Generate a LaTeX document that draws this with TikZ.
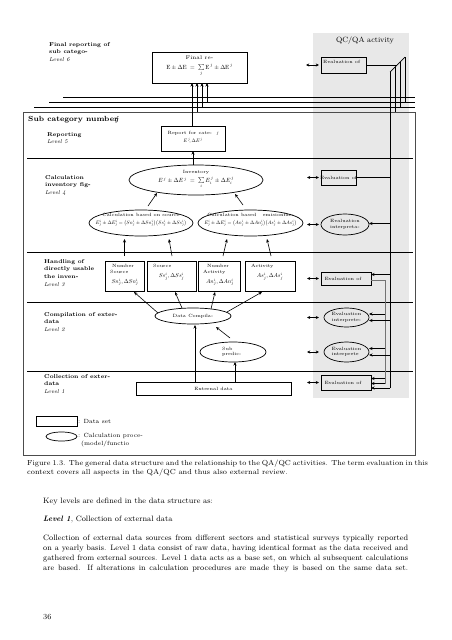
\RequirePackage{fix-cm}
\documentclass[tikz,border=0pt]{standalone}
\usetikzlibrary{shapes.geometric,arrows.meta,calc}
\definecolor{qcgray}{gray}{0.91}
\tikzset{
 bx/.style={draw, line width=0.7pt, rectangle, inner sep=0pt, outer sep=0pt},
 el/.style={draw, line width=0.7pt, ellipse, inner sep=0pt, outer sep=0pt},
 tx/.style={inner sep=0pt, font=\fontsize{5.3}{6.3}\selectfont, align=center},
 txs/.style={inner sep=0pt, font=\fontsize{4.6}{5.6}\selectfont, align=center},
 txl/.style={inner sep=0pt, font=\fontsize{4.6}{5.6}\selectfont, align=left, anchor=west},
 fm/.style={inner sep=0pt, font=\fontsize{10}{12}\selectfont, scale=0.5},
 lvl/.style={inner sep=0pt, anchor=north west, align=left, font=\fontsize{5.6}{7.8}\selectfont\bfseries},
 ln/.style={line width=0.7pt},
 arr/.style={line width=0.6pt, -{Stealth[length=3.5pt,width=3pt]}},
 darr/.style={line width=0.6pt, {Stealth[length=3.2pt,width=3pt]}-{Stealth[length=3.2pt,width=3pt]}},
 bus2/.style={line width=0.8pt, draw=black!55},
 body/.style={inner sep=0pt, anchor=base west, font=\fontsize{7.8}{10}\selectfont},
 capt/.style={inner sep=0pt, anchor=base west, font=\fontsize{7.3}{9}\selectfont},
}
\begin{document}
\begin{tikzpicture}[x=1pt,y=-1pt]
\useasboundingbox (0,0) rectangle (452,640);
\fill[white] (0,0) rectangle (452,640);
% QC/QA gray area
\fill[qcgray] (313,33) rectangle (409,398);
\node[inner sep=0pt, font=\fontsize{7.6}{9}\selectfont] (qc) at (365,41) {QC/QA activity};

% level 6
\node[lvl] (l6) at (49,42) {Final reporting of\\sub catego-\\\mdseries\itshape Level 6};
\node[bx, minimum width=95pt, minimum height=31pt] (fin) at (199.5,67.5) {};
\node[tx] (fint1) at (199.5,58) {Final re-};
\node[fm, scale=1.2] (fint2) at (199.5,70) {$\mathrm{E}\pm\Delta\mathrm{E}\;=\;\sum\limits_{j}\mathrm{E}^{\,j}\pm\Delta\mathrm{E}^{\,j}$};

% horizontal bundle
\coordinate (hA1) at (63,97);  \coordinate (hA2) at (415,97);
\coordinate (hB1) at (49,102); \coordinate (hB2) at (415,102);
\coordinate (hC1) at (34,107); \coordinate (hC2) at (415,107);
\draw[ln] (hA1) -- (hA2);
\draw[ln] (hB1) -- (hB2);
\draw[ln] (hC1) -- (hC2);

% sub category box
\draw[line width=1pt, draw=black!70] (23,112) rectangle (415,455);
\node[inner sep=0pt, anchor=west, font=\fontsize{7.4}{9}\selectfont\bfseries] (sub) at (28,120) {Sub category number\kern-2.5pt\textit{j}};

% level separators
\draw[ln] (27,158) -- (413,158);
\draw[ln] (27,252) -- (413,252);
\draw[ln] (27,302) -- (413,302);
\draw[ln] (27,371) -- (413,371);

% level labels
\node[lvl] (l5) at (47,132) {Reporting\\\mdseries\itshape Level 5};
\node[lvl] (l4) at (45,175) {Calculation\\inventory fig-\\\mdseries\itshape Level 4};
\node[lvl] (l3) at (44,259) {Handling of\\directly usable\\the inven-\\\mdseries\itshape Level 3};
\node[lvl] (l2) at (44,312) {Compilation of exter-\\data\\\mdseries\itshape Level 2};
\node[lvl] (l1) at (44,374) {Collection of exter-\\data\\\mdseries\itshape Level 1};

% level 5
\node[bx, minimum width=64pt, minimum height=25pt] (rep) at (193,138.5) {};
\node[txs] (rept1) at (193,133) {Report for cate-\quad\textit{j}};
\node[fm] (rept2) at (193,141) {$E^{\,j}\!,\Delta E^{\,j}$};

% level 4
\node[el, minimum width=134pt, minimum height=30pt] (inv) at (196,180) {};
\node[txs] (invt1) at (196,172) {Inventory};
\node[fm, scale=1.2] (invt2) at (196,182.5) {$E^{\,j}\pm\Delta E^{\,j}\;=\;\sum\limits_{i}E_i^{\,j}\pm\Delta E_i^{\,j}$};

\node[el, minimum width=104pt, minimum height=26pt] (src) at (141,223) {};
\node[txs] (srct1) at (141,215) {Calculation based on source};
\node[fm] (srct2) at (141,223.5) {$E_j^i\pm\Delta E_j^i=\bigl(Sn_j^i\pm\Delta Sn_j^i\bigr)\bigl(Ss_j^i\pm\Delta Ss_j^i\bigr)$};

\node[el, minimum width=105pt, minimum height=26pt] (act) at (250.5,223) {};
\node[txs] (actt1) at (250.5,215) {Calculation based \ \ emisionfac-};
\node[fm] (actt2) at (250.5,223.5) {$E_j^i\pm\Delta E_j^i=\bigl(An_j^i\pm\Delta An_j^i\bigr)\bigl(As_j^i\pm\Delta As_j^i\bigr)$};

% level 3
\node[bx, minimum width=39pt, minimum height=30pt] (b1) at (124.5,276) {};
\node[bx, minimum width=49pt, minimum height=30pt] (b2) at (171.5,276) {};
\node[bx, minimum width=42pt, minimum height=30pt] (b3) at (219,276) {};
\node[bx, minimum width=50pt, minimum height=30pt] (b4) at (270,276) {};
\node[txs, align=left, anchor=north west] (b1t) at (110,264.5) {\hspace*{2pt}Number\\Source};
\node[fm, scale=1.15] (b1f) at (125,282) {$Sn_j^i,\Delta Sn_j^i$};
\node[txs, anchor=north west] (b2t) at (153,264.5) {Source};
\node[fm, scale=1.15] (b2f) at (171.5,276.5) {$Ss_j^i,\Delta Ss_j^i$};
\node[txs, align=left, anchor=north west] (b3t) at (203,264.5) {\hspace*{4pt}Number\\Activity};
\node[fm, scale=1.15] (b3f) at (220,282) {$An_j^i,\Delta An_j^i$};
\node[txs, anchor=north west] (b4t) at (251,264.5) {Activity};
\node[fm, scale=1.15] (b4f) at (270,276.5) {$As_j^i,\Delta As_j^i$};

% level 2
\node[el, minimum width=76pt, minimum height=16pt] (dc) at (193,316) {};
\node[txs] (dct) at (193,316) {Data Compila-};
\node[el, minimum width=66pt, minimum height=20pt] (sp) at (233,352) {};
\node[txs, align=left, anchor=west] (spt) at (222,352) {Sub\\predic-};

% level 1
\node[bx, minimum width=155pt, minimum height=13pt] (ext) at (213.5,388.5) {};
\node[txs] (extt) at (213.5,388.5) {External data};

% main arrows
\draw[arr] ([xshift=-1pt]rep.north) -- ([xshift=-7.5pt]fin.south);
\coordinate (j1) at (197,112);
\coordinate (j2) at (202,107);
\coordinate (j3) at (207,102);
\draw[arr] (j1) -- ([xshift=-2.5pt]fin.south);
\draw[arr] (j2) -- ([xshift=2.5pt]fin.south);
\draw[arr] (j3) -- ([xshift=7.5pt]fin.south);
\draw[arr] (inv.north -| rep.south) -- (rep.south);
\draw[arr] ($(src.north)+(7,-4)$) -- ($(inv.south)+(-39,-2)$);
\draw[arr] ($(act.north)+(-7.5,-5)$) -- ($(inv.south)+(39,-1)$);
\draw[arr] ([yshift=5pt]b1.north) -- ([xshift=-16.5pt,yshift=-3pt]src.south);
\draw[arr] ([xshift=0.5pt,yshift=5pt]b2.north) -- ([xshift=28pt,yshift=-3pt]src.south);
\draw[arr] ([xshift=4pt,yshift=5pt]b3.north) -- ([xshift=-23.5pt,yshift=-3pt]act.south);
\draw[arr] ([xshift=1pt,yshift=5pt]b4.north) -- ([xshift=16.5pt,yshift=-3pt]act.south);
\draw[arr] ([xshift=3pt,yshift=3pt]dc.west) -- ([xshift=9.5pt,yshift=-1pt]b1.south);
\draw[arr] ([xshift=-11pt]dc.north) -- ([xshift=3.5pt,yshift=-1pt]b2.south);
\draw[arr] ([xshift=18pt,yshift=-1pt]dc.north) -- ([xshift=-4pt,yshift=-1pt]b3.south);
\draw[arr] ([xshift=-4pt,yshift=4pt]dc.east) -- ([xshift=-8pt,yshift=-1pt]b4.south);
\draw[arr] ([xshift=-3pt,yshift=4pt]sp.north) -- ([xshift=23pt,yshift=-3pt]dc.south);
\draw[arr] ([xshift=-18.5pt]ext.north) -- ([xshift=2pt,yshift=-1pt]dc.south);
\draw[arr] ([xshift=21.5pt]ext.north) -- ([xshift=2pt]sp.south);

% QC/QA evaluation elements
\node[bx, minimum width=45pt, minimum height=16pt] (ev6) at (343.5,65) {};
\node[txl] (ev6t) at (323,62) {Evaluation of};
\node[bx, minimum width=35pt, minimum height=15pt] (ev4) at (338.5,177.5) {};
\node[txs] (ev4t) at (338.5,177.5) {Evaluation of};
\node[el, minimum width=48pt, minimum height=21pt] (ev4e) at (345,224.5) {};
\node[txs, align=left] (ev4et) at (345,224.5) {Evaluation\\interpreta-};
\node[bx, minimum width=50pt, minimum height=13pt] (ev3) at (346,278.5) {};
\node[txs] (ev3t) at (343,278.5) {Evaluation of};
\node[el, minimum width=45pt, minimum height=19pt] (ev2a) at (346.5,317.5) {};
\node[txs] (ev2at) at (346.5,317.5) {Evaluation\\interprete-};
\node[el, minimum width=45pt, minimum height=20pt] (ev2b) at (346.5,352) {};
\node[txs, align=left] (ev2bt) at (346.5,352) {Evaluation\\interprete};
\node[bx, minimum width=50pt, minimum height=15pt] (ev1) at (346,382.5) {};
\node[txs] (ev1t) at (343,382.5) {Evaluation of};

% double arrows on the left of the evaluation elements
\coordinate (q6) at (306,65);
\coordinate (q4) at (307,177.5);
\coordinate (q4e) at (307,224.5);
\coordinate (q3) at (307,278.5);
\coordinate (q2a) at (307,317.5);
\coordinate (q2b) at (307,352);
\coordinate (q1) at (307,382.5);
\draw[darr] (q6) -- ([xshift=-2pt]ev6.west);
\draw[darr] (q4) -- ([xshift=-2pt]ev4.west);
\draw[darr] (q4e) -- ([xshift=-2pt]ev4e.west);
\draw[darr] (q3) -- ([xshift=-2pt]ev3.west);
\draw[darr] (q2a) -- ([xshift=-5pt]ev2a.west);
\draw[darr] (q2b) -- ([xshift=-5pt]ev2b.west);
\draw[darr] (q1) -- ([xshift=-2pt]ev1.west);

% right-hand bus
\coordinate (d0) at (390,72);
\coordinate (d3) at (405,57);
\coordinate (dm) at (397,65);
\draw[ln] (d0) -- (d3);
\draw[ln] (ev6.east) -- (dm);
\draw[ln] (395,67) -- (395,112);
\draw[ln] (400,62) -- (400,107);
\draw[ln] (405,57) -- (405,102);
\coordinate (bt) at (390,388);
\draw[ln] (d0) -- (bt);
\coordinate (k4) at (390,177.5);
\draw[ln] (ev4.east) -- (k4);
\coordinate (k4e) at (390,223.5);
\draw[arr] (k4e) -- ([yshift=1pt]ev4e.east);
\coordinate (k3) at (390,274.5);
\draw[arr] (k3) -- ([yshift=4pt]ev3.east);
\coordinate (s3) at (385,280);
\coordinate (s1) at (385,383.5);
\draw[bus2] ([yshift=-1.5pt]ev3.east) -- (s3) -- (s1);
\draw[arr] (385,314) -- ([yshift=3.5pt]ev2a.east);
\draw[arr] (390,320.5) -- ([yshift=-3pt]ev2a.east);
\draw[arr] (385,348.5) -- ([yshift=3.5pt]ev2b.east);
\draw[arr] (390,355) -- ([yshift=-3pt]ev2b.east);
\draw[arr] (385,378.5) -- ([yshift=4pt]ev1.east);
\draw[arr] (s1) -- ([yshift=-1pt]ev1.east);
\draw[arr] (bt) -- ([yshift=-5.5pt]ev1.east);

% legend
\node[bx, minimum width=41pt, minimum height=10pt] (lgb) at (56.5,421) {};
\node[inner sep=0pt, anchor=west, font=\fontsize{6}{7.5}\selectfont] (lgbt) at (78,421) {: Data set};
\node[el, minimum width=31pt, minimum height=9pt] (lge) at (61.5,436.5) {};
\node[inner sep=0pt, anchor=north west, align=left, font=\fontsize{6}{7.6}\selectfont] (lget) at (78,433) {: Calculation proce-\\\hspace*{3pt}(model/functio};

% caption
\node[capt] (c1) at (27,465.5) {\makebox[382pt][s]{Figure 1.3. The general data structure and the relationship to the QA/QC activities. The term evaluation in this}};
\node[capt] (c2) at (27,474.5) {context covers all aspects in the QA/QC and thus also external review.};

% body text
\node[body] (t1) at (43,503.5) {Key levels are defined in the data structure as:};
\node[body] (t2) at (43,521.5) {\textbf{\textit{Level 1}}, Collection of external data};
\node[body] (p1) at (43,540.5) {\makebox[365pt][s]{Collection of external data sources from different sectors and statistical surveys typically reported}};
\node[body] (p2) at (43,550.5) {\makebox[365pt][s]{on a yearly basis. Level 1 data consist of raw data, having identical format as the data received and}};
\node[body] (p3) at (43,560.5) {\makebox[365pt][s]{gathered from external sources. Level 1 data acts as a base set, on which al subsequent calculations}};
\node[body] (p4) at (43,570.5) {\makebox[365pt][s]{are based. If alterations in calculation procedures are made they is based on the same data set.}};
\node[body] (pg) at (43,619) {36};
\end{tikzpicture}
\end{document}
